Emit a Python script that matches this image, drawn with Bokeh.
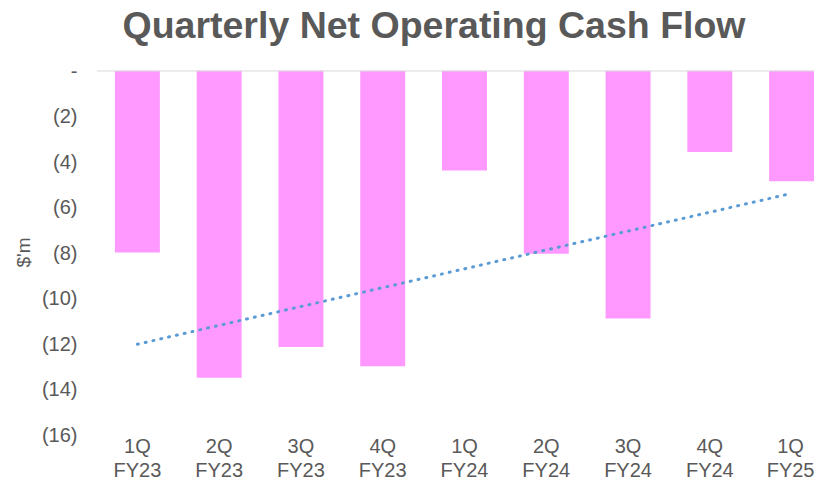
import numpy as np
from bokeh.plotting import figure
from bokeh.models import Range1d, FixedTicker, Span, ColumnDataSource, Title
from bokeh.embed import file_html
from bokeh.resources import INLINE

# ---- data ----
quarters = ["1Q\nFY23", "2Q\nFY23", "3Q\nFY23", "4Q\nFY23", "1Q\nFY24",
            "2Q\nFY24", "3Q\nFY24", "4Q\nFY24", "1Q\nFY25"]
cash_flow = [-8.0, -13.5, -12.15, -13.0, -4.4, -8.05, -10.9, -3.58, -4.87]
y_ticks = [0, -2, -4, -6, -8, -10, -12, -14, -16]
y_tick_labels = ["-", "(2)", "(4)", "(6)", "(8)", "(10)", "(12)", "(14)", "(16)"]

xs = list(range(1, len(quarters) + 1))

# linear trendline (Excel-style) fitted to the series
slope, intercept = np.polyfit(xs, cash_flow, 1)
trend_x = [xs[0], xs[-1]]
trend_y = [intercept + slope * xs[0], intercept + slope * xs[-1]]

FONT = "Liberation Sans"
GREY = "#595959"

p = figure(width=814, height=483, output_backend="svg", toolbar_location=None,
           x_range=Range1d(0.5, 9.28), y_range=Range1d(-16, 0),
           min_border_left=96, min_border_right=0, min_border_top=70,
           min_border_bottom=20)
p.outline_line_color = None
p.grid.visible = False
p.background_fill_color = "white"
p.border_fill_color = "white"

src = ColumnDataSource(dict(x=xs, v=cash_flow))
p.vbar(x="x", top=0, bottom="v", width=0.55, source=src,
       fill_color="#FF99FF", line_color=None)

p.line(trend_x, trend_y, line_color="#5B9BD5", line_width=3,
       line_dash="1 7", line_cap="round")

p.add_layout(Span(location=0, dimension="width", line_color="#D9D9D9",
                  line_width=2))

# spacer between plot area and title
p.add_layout(Title(text=" ", text_font_size="1px", standoff=20), "above")

p.title.text = "Quarterly Net Operating Cash Flow"
p.title.text_font = FONT
p.title.text_font_size = "37.5px"
p.title.text_font_style = "bold"
p.title.text_color = GREY
p.title.align = "left"
p.title.vertical_align = "top"
p.title.offset = 26
p.title.standoff = 0

xa = p.xaxis[0]
xa.ticker = FixedTicker(ticks=xs)
xa.major_label_overrides = {x: q for x, q in zip(xs, quarters)}
xa.axis_line_color = None
xa.major_tick_line_color = None
xa.minor_tick_line_color = None
xa.major_tick_out = 0
xa.major_tick_in = 0
xa.minor_tick_out = 0
xa.major_label_text_font = FONT
xa.major_label_text_font_size = "20px"
xa.major_label_text_color = GREY
xa.major_label_text_line_height = 1.1
xa.major_label_standoff = 0

ya = p.yaxis[0]
ya.ticker = FixedTicker(ticks=y_ticks)
ya.major_label_overrides = {t: l for t, l in zip(y_ticks, y_tick_labels)}
ya.axis_line_color = None
ya.major_tick_line_color = None
ya.minor_tick_line_color = None
ya.major_tick_out = 0
ya.major_tick_in = 0
ya.minor_tick_out = 0
ya.major_label_text_font = FONT
ya.major_label_text_font_size = "20px"
ya.major_label_text_color = GREY
ya.major_label_standoff = 19
ya.axis_label = "$'m"
ya.axis_label_text_font = FONT
ya.axis_label_text_font_size = "19px"
ya.axis_label_text_font_style = "normal"
ya.axis_label_text_color = GREY
ya.axis_label_standoff = 5

open("out.html", "w").write(file_html(p, INLINE))
